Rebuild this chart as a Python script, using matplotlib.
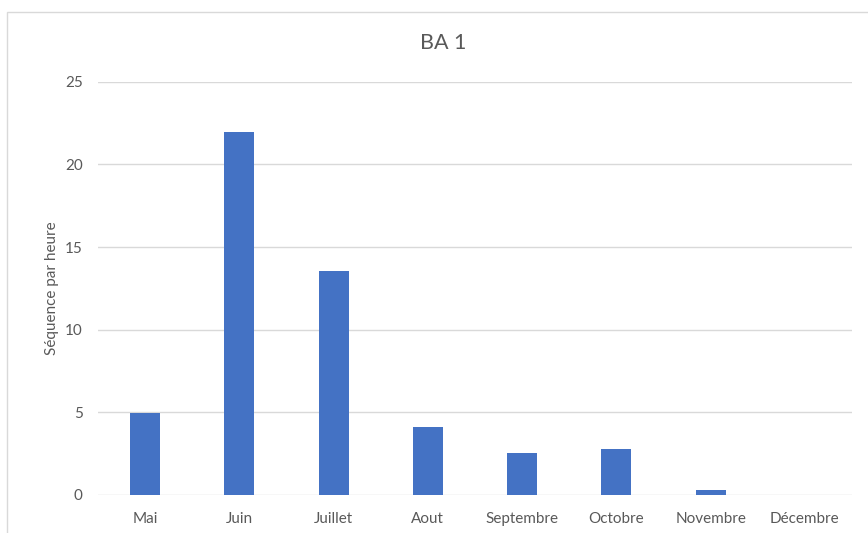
import matplotlib.pyplot as plt
from matplotlib.patches import Rectangle

months = ['Mai', 'Juin', 'Juillet', 'Aout', 'Septembre', 'Octobre', 'Novembre', 'Décembre']
values = [4.95, 21.95, 13.55, 4.14, 2.56, 2.78, 0.3, 0.0]
yticks = [0, 5, 10, 15, 20, 25]

plt.rcParams['font.family'] = ['Lato', 'DejaVu Sans']

fig = plt.figure(figsize=(8.68, 5.33), dpi=100)
ax = fig.add_axes([98 / 868, 1 - 495 / 533, 754 / 868, (495 - 81.7) / 533])

x = range(len(months))
ax.bar(x, values, width=0.32, color='#4472C4', zorder=3)

ax.set_xlim(-0.5, len(months) - 0.5)
ax.set_ylim(0, 25)
ax.set_yticks(yticks)
ax.set_xticks(list(x))
ax.set_xticklabels(months)
ax.tick_params(length=0, labelsize=11, colors='#595959')
ax.tick_params(axis='x', pad=12)
ax.tick_params(axis='y', pad=11)
ax.grid(axis='y', color='#d9d9d9', linewidth=1, zorder=0)
for s in ax.spines.values():
    s.set_visible(False)

ax.set_ylabel('Séquence par heure', fontsize=11, color='#595959', labelpad=4)
fig.text(443 / 868, 1 - 43 / 533, 'BA 1', ha='center', va='center', fontsize=15.5, color='#595959')

# chart frame
fig.patches.append(Rectangle((7 / 868, -0.1), 1.2, 1.1 - 12 / 533, transform=fig.transFigure,
                             fill=False, edgecolor='#d9d9d9', linewidth=1))

fig.savefig('out.png', dpi=100)
